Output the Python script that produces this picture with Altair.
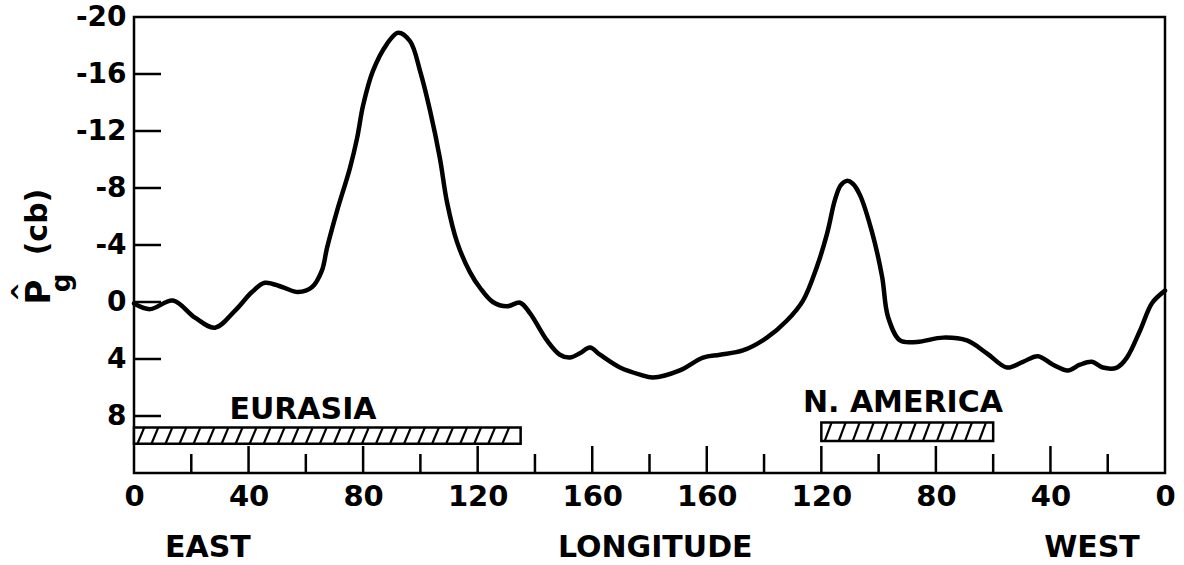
import altair as alt
import pandas as pd

# ---- data ----
lon = [0, 5.6, 13.6, 21.3, 28.3, 35.3, 41.2, 45.7, 51.7, 57.3,
       62.2, 65.6, 67.4, 70.9, 75.4, 77.9, 80.0, 83.4, 88.3, 92.2,
       96.4, 99.9, 103.4, 106.8, 109.3, 112.8, 117.3, 120.8, 125.3, 130.2,
       134.8, 138.3, 144.2, 148.7, 152.2, 155.7, 159.2, 162.7, 169.7, 176.7,
       181.2, 190.6, 198.7, 204.6, 212.6, 221.0, 228.0, 233.6, 238.5, 242.0,
       244.8, 246.8, 248.9, 251.0, 253.5, 257.7, 261.2, 263.3, 267.5, 273.4,
       282.5, 290.8, 297.8, 304.8, 310.4, 315.6, 320.9, 326.1, 330.3, 334.5,
       338.3, 343.2, 346.7, 351.3, 355.5, 360]
pg = [0.1, 0.5, -0.1, 1.1, 1.8, 0.6, -0.7, -1.35, -1.05, -0.7,
      -1.05, -2.2, -3.8, -6.4, -9.4, -11.5, -13.8, -16.2, -18.1, -18.9,
      -18.3, -16.2, -13.4, -10.1, -7.0, -4.2, -2.1, -1.0, 0.0, 0.3,
      0.05, 0.8, 2.7, 3.7, 3.9, 3.6, 3.2, 3.7, 4.6, 5.1,
      5.3, 4.8, 3.9, 3.7, 3.4, 2.5, 1.3, -0.1, -2.5, -4.8,
      -7.2, -8.2, -8.5, -8.3, -7.5, -4.9, -1.8, 1.05, 2.7, 2.8,
      2.5, 2.7, 3.6, 4.6, 4.2, 3.8, 4.4, 4.8, 4.4, 4.2,
      4.6, 4.6, 3.9, 2.0, 0.07, -0.8]

continents = ["EURASIA", "N. AMERICA"]
cont_start = [0, 240]
cont_end = [135, 300]
cont_top = [8.8, 8.45]
cont_bottom = [9.95, 9.75]
label_lon = [59, 268.5]
label_pg = [7.6, 7.1]

x_label_values = [0, 40, 80, 120, 160, 200, 240, 280, 320, 360]
x_minor_ticks = [20, 60, 100, 140, 180, 220, 260, 300, 340]
x_major_ticks = [40, 80, 120, 160, 200, 240, 280, 320]
y_label_values = [-20, -16, -12, -8, -4, 0, 4, 8]
y_ticks = [-16, -12, -8, -4, 0, 4, 8]

bottom_texts = ["EAST", "LONGITUDE", "WEST"]
bottom_lon = [25.8, 182, 334.5]

FONT = "DejaVu Sans"
W, H = 1031, 456

curve = pd.DataFrame({"lon": lon, "pg": pg})
bars = pd.DataFrame({"name": continents, "lon": cont_start, "lon_end": cont_end,
                     "pg": cont_top, "pg_end": cont_bottom})
labels = pd.DataFrame({"name": continents, "lon": label_lon, "pg": label_pg})

# hatch stripes inside each continent bar
hatch_rows = []
for s, e, t, b in zip(cont_start, cont_end, cont_top, cont_bottom):
    step, slant = 4.9, 2.4
    xx = s + 1.2
    while xx + slant <= e + 0.01:
        hatch_rows.append({"lon": xx, "lon_end": xx + slant, "pg": b, "pg_end": t})
        xx += step
hatch = pd.DataFrame(hatch_rows)

xscale = alt.Scale(domain=[0, 360], nice=False, zero=False)
yscale = alt.Scale(domain=[-20, 12], reverse=True, nice=False, zero=False)

line = alt.Chart(curve).mark_line(
    color="black", strokeWidth=4.5, interpolate="catmull-rom", strokeCap="round"
).encode(
    x=alt.X("lon:Q", scale=xscale, axis=alt.Axis(
        values=x_label_values,
        labelExpr="datum.value <= 180 ? '' + datum.value : '' + (360 - datum.value)",
        ticks=False, domain=False, grid=False, labelFlush=False, labelOverlap=False,
        labelFontSize=29, labelFont=FONT, labelFontWeight="bold",
        labelColor="black", labelPadding=9, title=None)),
    y=alt.Y("pg:Q", scale=yscale, axis=alt.Axis(
        values=y_label_values, labelExpr="'' + datum.value",
        ticks=False, domain=False, grid=False,
        labelFontSize=28, labelFont=FONT, labelFontWeight="bold",
        labelColor="black", labelPadding=8,
        labelOverlap=False, labelFlush=False, title=None)),
)

rects = alt.Chart(bars).mark_rect(fill="white", stroke="black", strokeWidth=2.5).encode(
    x=alt.X("lon:Q"), x2="lon_end:Q",
    y=alt.Y("pg:Q"), y2="pg_end:Q",
)

hatches = alt.Chart(hatch).mark_rule(color="black", strokeWidth=2.2).encode(
    x=alt.X("lon:Q"), x2="lon_end:Q",
    y=alt.Y("pg:Q"), y2="pg_end:Q",
)

cont_text = alt.Chart(labels).mark_text(
    font=FONT, fontSize=30, fontWeight="bold", color="black",
    baseline="middle", align="center"
).encode(
    x=alt.X("lon:Q"),
    y=alt.Y("pg:Q"),
    text="name:N",
)

yt = alt.Chart(pd.DataFrame({"pg": y_ticks})).mark_rule(color="black", strokeWidth=2.5).encode(
    y=alt.Y("pg:Q"), x=alt.value(0), x2=alt.value(27)
)
xt_major = alt.Chart(pd.DataFrame({"lon": x_major_ticks})).mark_rule(color="black", strokeWidth=2.5).encode(
    x=alt.X("lon:Q"), y=alt.value(H), y2=alt.value(H - 27)
)
xt_minor = alt.Chart(pd.DataFrame({"lon": x_minor_ticks})).mark_rule(color="black", strokeWidth=2.5).encode(
    x=alt.X("lon:Q"), y=alt.value(H), y2=alt.value(H - 19)
)

btext = alt.Chart(pd.DataFrame({"t": bottom_texts, "lon": bottom_lon})).mark_text(
    font=FONT, fontSize=30, fontWeight="bold", color="black",
    baseline="middle", align="center"
).encode(
    x=alt.X("lon:Q"), y=alt.value(531), text="t:N"
)

# y-axis title pieces: P-hat, subscript g, (cb)
def title_piece(txt, px, py, size):
    return alt.Chart(pd.DataFrame({"t": [txt]})).mark_text(
        font=FONT, fontSize=size, fontWeight="bold", color="black", angle=270,
        baseline="middle", align="center"
    ).encode(x=alt.value(px), y=alt.value(py), text="t:N")

ytitle = (title_piece("P", -94, 275, 34) + title_piece("^", -112, 275, 24)
          + title_piece("g", -72, 266, 26) + title_piece("(cb)", -96, 205, 30))

chart = alt.layer(
    line, rects, hatches, yt, xt_major, xt_minor, cont_text, btext, ytitle
).properties(
    width=W, height=H,
    autosize=alt.AutoSizeParams(type="none"),
    padding={"left": 134, "top": 17, "right": 19, "bottom": 92},
).configure_view(stroke="black", strokeWidth=2.5)

chart.save("out.html", embed_options={"renderer": "svg", "actions": False})
